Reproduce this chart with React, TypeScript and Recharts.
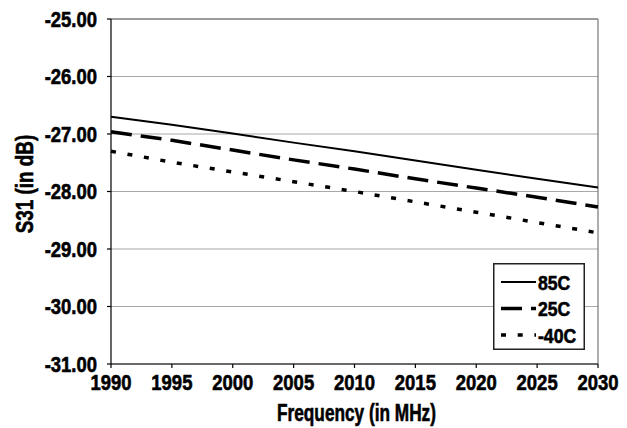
import React from "react";
import { LineChart, Line, XAxis, YAxis, CartesianGrid, ReferenceLine, Legend, Label } from "recharts";

const freqs = [1990, 1995, 2000, 2005, 2010, 2015, 2020, 2025, 2030];
const s85 = [-26.7, -26.84, -26.99, -27.15, -27.3, -27.46, -27.62, -27.78, -27.93];
const s25 = [-26.96, -27.11, -27.28, -27.45, -27.61, -27.78, -27.94, -28.1, -28.27];
const sM40 = [-27.3, -27.49, -27.66, -27.83, -28.0, -28.18, -28.36, -28.54, -28.72];
const xTicks = [1990, 1995, 2000, 2005, 2010, 2015, 2020, 2025, 2030];
const yTicks = [-31, -30, -29, -28, -27, -26, -25];
const seriesNames = ["85C", "25C", "-40C"];

const data = freqs.map((f, i) => ({ f, a: s85[i], b: s25[i], c: sM40[i] }));

const FONT = "'Liberation Sans', Arial, sans-serif";

const styles = [
  { dash: undefined as string | undefined, width: 2 },
  { dash: "21 9", width: 3.5 },
  { dash: "5 11.7", width: 3.5 },
];

type NTProps = {
  x: number;
  y: number;
  anchor: "start" | "middle" | "end";
  dy?: string;
  size?: number;
  sx?: number;
  rotate?: number;
  children: React.ReactNode;
};

const NarrowText = ({ x, y, anchor, dy, size = 22, sx = 0.84, rotate = 0, children }: NTProps) => (
  <text
    x={0}
    y={0}
    dy={dy}
    textAnchor={anchor}
    transform={`translate(${x},${y}) rotate(${rotate}) scale(${sx},1)`}
    fontFamily={FONT}
    fontWeight="bold"
    fontSize={size}
    fill="#000"
    stroke="#000"
    strokeWidth={0.6}
  >
    {children}
  </text>
);

const YTick = (p: any) => (
  <NarrowText x={p.x} y={p.y} anchor="end" dy="0.36em">
    {Number(p.payload.value).toFixed(2)}
  </NarrowText>
);

const XTick = (p: any) => (
  <NarrowText x={p.x} y={p.y} anchor="middle" dy="0.72em">
    {p.payload.value}
  </NarrowText>
);

const LegendBox = () => (
  <svg width={92} height={87} style={{ display: "block" }}>
    <rect x={0.75} y={0.75} width={90.5} height={85.5} fill="#fff" stroke="#222" strokeWidth={1.5} />
    {seriesNames.map((n, i) => {
      const cy = 19 + i * 26.5;
      return (
        <g key={n}>
          <line x1={8} x2={43} y1={cy} y2={cy} stroke="#000" strokeWidth={styles[i].width} strokeDasharray={styles[i].dash} />
          <NarrowText x={45} y={cy} anchor="start" dy="0.36em" size={21}>
            {n}
          </NarrowText>
        </g>
      );
    })}
  </svg>
);

export default function App() {
  return (
    <div style={{ width: 619, height: 420 }}>
      <LineChart width={619} height={420} data={data} margin={{ top: 11, right: 29, left: 0, bottom: 0 }}>
        <CartesianGrid vertical={false} stroke="#a8a8a8" strokeWidth={1.2} />
        <XAxis
          dataKey="f"
          type="number"
          domain={[1990, 2030]}
          ticks={xTicks}
          height={64}
          tick={<XTick />}
          tickSize={4}
          tickMargin={6}
          axisLine={{ stroke: "#000", strokeWidth: 1.2 }}
          tickLine={{ stroke: "#000", strokeWidth: 1.2 }}
          interval={0}
        >
          <Label
            content={() => (
              <NarrowText x={348.5} y={413} anchor="middle" size={23} sx={0.75}>
                Frequency (in MHz)
              </NarrowText>
            )}
          />
        </XAxis>
        <YAxis
          type="number"
          domain={[-31, -25]}
          ticks={yTicks}
          width={103}
          tick={<YTick />}
          tickSize={4}
          tickMargin={10}
          axisLine={{ stroke: "#000", strokeWidth: 1.2 }}
          tickLine={{ stroke: "#000", strokeWidth: 1.2 }}
          interval={0}
        >
          <Label
            content={() => (
              <NarrowText x={25} y={176} anchor="middle" size={23} sx={0.82} rotate={-90}>
                S31 (in dB)
              </NarrowText>
            )}
          />
        </YAxis>
        <ReferenceLine y={-25} stroke="#666" strokeWidth={1.2} />
        <ReferenceLine x={2030} stroke="#777" strokeWidth={1.2} />
        <Line dataKey="a" name={seriesNames[0]} stroke="#000" strokeWidth={styles[0].width} dot={false} isAnimationActive={false} />
        <Line dataKey="b" name={seriesNames[1]} stroke="#000" strokeWidth={styles[1].width} strokeDasharray={styles[1].dash} dot={false} isAnimationActive={false} />
        <Line dataKey="c" name={seriesNames[2]} stroke="#000" strokeWidth={styles[2].width} strokeDasharray={styles[2].dash} dot={false} isAnimationActive={false} />
        <Legend
          layout="vertical"
          align="center"
          verticalAlign="middle"
          wrapperStyle={{ left: 485, top: 255, width: 92, height: 87 }}
          content={() => <LegendBox />}
        />
      </LineChart>
    </div>
  );
}
